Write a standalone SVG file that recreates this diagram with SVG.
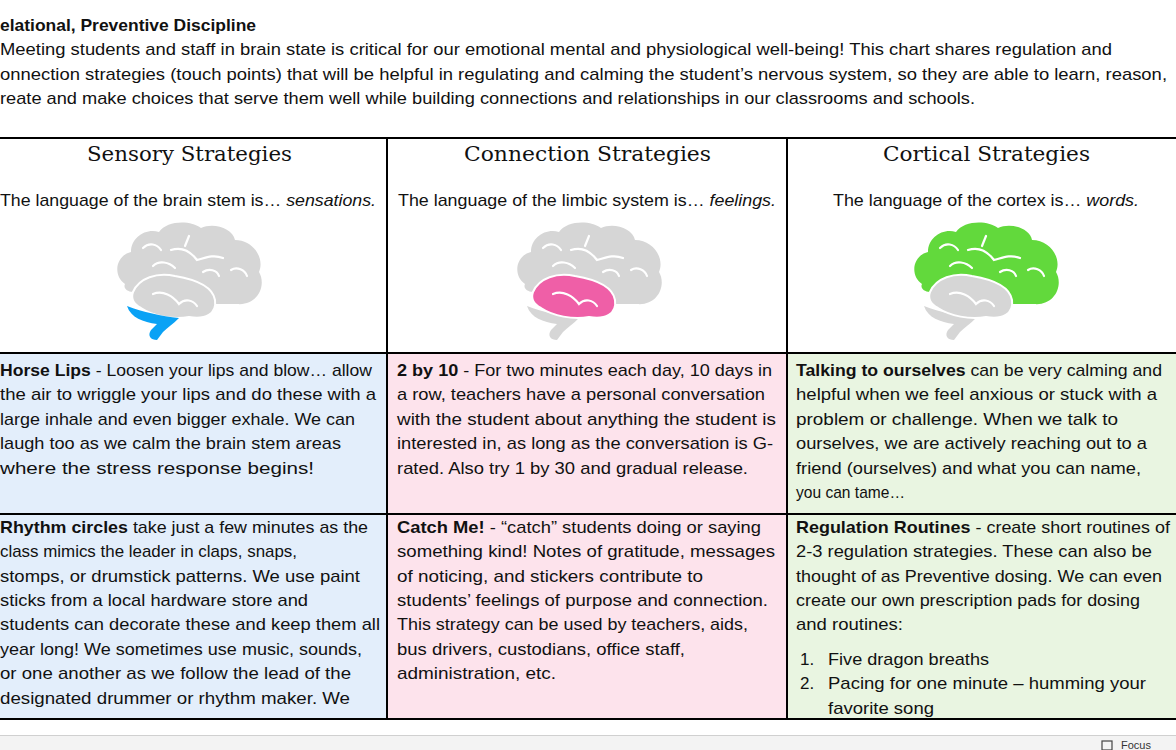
<svg xmlns="http://www.w3.org/2000/svg" width="1176" height="750" viewBox="0 0 1176 750">
<style>
text{font-family:"Liberation Sans",Arial,sans-serif;font-size:17px;fill:#111}
.h{font-family:"DejaVu Serif","Liberation Serif",serif;font-size:20px}
.b{font-weight:bold}
.i{font-style:italic}
.sul{fill:none;stroke:#fff;stroke-width:2.2;stroke-linecap:round}
</style>
<defs>
<path id="ctx" d="M12,64 C0,56 2,36 18,32 C18,18 32,8 46,12 C54,0 78,0 88,8 C100,2 120,8 122,20 C140,20 152,38 146,52 C154,66 144,86 124,84 L102,84 C98,70 84,64 62,60 C46,56 30,60 20,72 C14,72 10,68 12,64 Z"/>
<path id="tmp" d="M20,72 C26,58 44,52 62,56 C86,60 100,68 102,80 C104,94 92,100 76,97 C60,100 40,96 28,88 C20,84 18,78 20,72 Z"/>
<path id="stm" d="M14,86 C30,92 48,96 66,98 C60,104 54,108 50,112 L44,120 C38,120 34,116 38,110 L44,104 C30,102 18,98 14,86 Z"/>
<g id="sulci" class="sul"><path d="M30,28 C36,22 44,24 48,30"/><path d="M58,30 C70,26 78,32 84,40 C92,38 100,34 110,38"/><path d="M118,50 C124,46 132,50 134,56"/><path d="M40,46 C46,40 56,42 62,48"/><path d="M90,52 C96,48 104,50 106,56"/><path d="M40,74 C50,70 60,76 66,84 C72,78 80,80 84,86"/><path d="M76,16 L72,26"/></g>
</defs>
<rect width="1176" height="750" fill="#fff"/>
<text x="0" y="31" class="b" textLength="256" lengthAdjust="spacingAndGlyphs">elational, Preventive Discipline</text>
<text x="0" y="55" textLength="1112" lengthAdjust="spacingAndGlyphs">Meeting students and staff in brain state is critical for our emotional mental and physiological well-being!  This chart shares regulation and</text>
<text x="0" y="80" textLength="1167" lengthAdjust="spacingAndGlyphs">onnection strategies (touch points) that will be helpful in regulating and calming the student’s nervous system, so they are able to learn, reason,</text>
<text x="0" y="104" textLength="975" lengthAdjust="spacingAndGlyphs">reate and make choices that serve them well while building connections and relationships in our classrooms and schools.</text>

<g id="cells">
<rect x="0" y="353" width="387" height="366" fill="#e3eefb"/>
<rect x="387" y="353" width="400" height="366" fill="#fde3ec"/>
<rect x="787" y="353" width="389" height="366" fill="#e9f5e1"/>
</g>
<g id="grid" stroke="#000" stroke-width="2" fill="none">
<line x1="0" y1="138" x2="1176" y2="138"/><line x1="0" y1="353" x2="1176" y2="353"/><line x1="0" y1="514" x2="1176" y2="514"/><line x1="0" y1="719" x2="1176" y2="719"/>
<line x1="387" y1="138" x2="387" y2="719"/><line x1="787" y1="138" x2="787" y2="719"/>
</g>

<g id="col1-head">
<text x="87" y="161" class="h" textLength="205" lengthAdjust="spacingAndGlyphs">Sensory Strategies</text>
<text x="0" y="206" textLength="376" lengthAdjust="spacingAndGlyphs">The language of the brain stem is… <tspan class="i">sensations.</tspan></text>
<g transform="translate(113,220)"><use href="#ctx" fill="#d6d6d6"/><use href="#tmp" fill="#d6d6d6" stroke="#fff" stroke-width="2"/><use href="#stm" fill="#0aa2f5"/><use href="#sulci"/></g>
</g>
<g id="col2-head">
<text x="464" y="161" class="h" textLength="247" lengthAdjust="spacingAndGlyphs">Connection Strategies</text>
<text x="398" y="206" textLength="378" lengthAdjust="spacingAndGlyphs">The language of the limbic system is… <tspan class="i">feelings.</tspan></text>
<g transform="translate(513,220)"><use href="#ctx" fill="#d6d6d6"/><use href="#stm" fill="#d6d6d6"/><use href="#tmp" fill="#ef5fa7" stroke="#fff" stroke-width="2"/><use href="#sulci"/></g>
</g>
<g id="col3-head">
<text x="883" y="161" class="h" textLength="207" lengthAdjust="spacingAndGlyphs">Cortical Strategies</text>
<text x="833" y="206" textLength="306" lengthAdjust="spacingAndGlyphs">The language of the cortex is… <tspan class="i">words.</tspan></text>
<g transform="translate(910,220)"><use href="#ctx" fill="#62d93c"/><use href="#stm" fill="#d6d6d6"/><use href="#tmp" fill="#d6d6d6" stroke="#fff" stroke-width="2"/><use href="#sulci"/></g>
</g>

<g id="horse-lips">
<text x="0" y="376" textLength="372" lengthAdjust="spacingAndGlyphs"><tspan class="b">Horse Lips</tspan> - Loosen your lips and blow… allow</text>
<text x="0" y="400" textLength="376" lengthAdjust="spacingAndGlyphs">the air to wriggle your lips and do these with a</text>
<text x="0" y="425" textLength="355" lengthAdjust="spacingAndGlyphs">large inhale and even bigger exhale. We can</text>
<text x="0" y="449" textLength="341" lengthAdjust="spacingAndGlyphs">laugh too as we calm the brain stem areas</text>
<text x="0" y="474" textLength="314" lengthAdjust="spacingAndGlyphs">where the stress response begins!</text>
</g>
<g id="two-by-ten">
<text x="397" y="376" textLength="375" lengthAdjust="spacingAndGlyphs"><tspan class="b">2 by 10</tspan> - For two minutes each day, 10 days in</text>
<text x="397" y="400" textLength="368" lengthAdjust="spacingAndGlyphs">a row, teachers have a personal conversation</text>
<text x="397" y="425" textLength="379" lengthAdjust="spacingAndGlyphs">with the student about anything the student is</text>
<text x="397" y="449" textLength="376" lengthAdjust="spacingAndGlyphs">interested in, as long as the conversation is G-</text>
<text x="397" y="474" textLength="351" lengthAdjust="spacingAndGlyphs">rated.  Also try 1 by 30 and gradual release.</text>
</g>
<g id="talking">
<text x="796" y="376" textLength="366" lengthAdjust="spacingAndGlyphs"><tspan class="b">Talking to ourselves</tspan> can be very calming and</text>
<text x="796" y="400" textLength="361" lengthAdjust="spacingAndGlyphs">helpful when we feel anxious or stuck with a</text>
<text x="796" y="425" textLength="322" lengthAdjust="spacingAndGlyphs">problem or challenge.  When we talk to</text>
<text x="796" y="449" textLength="351" lengthAdjust="spacingAndGlyphs">ourselves, we are actively reaching out to a</text>
<text x="796" y="474" textLength="345" lengthAdjust="spacingAndGlyphs">friend (ourselves) and what you can name,</text>
<text x="796" y="498" textLength="109" lengthAdjust="spacingAndGlyphs">you can tame…</text>
</g>
<g id="rhythm">
<text x="0" y="533" textLength="368" lengthAdjust="spacingAndGlyphs"><tspan class="b">Rhythm circles</tspan> take just a few minutes as the</text>
<text x="0" y="557" textLength="297" lengthAdjust="spacingAndGlyphs">class mimics the leader in claps, snaps,</text>
<text x="0" y="582" textLength="360" lengthAdjust="spacingAndGlyphs">stomps, or drumstick patterns. We use paint</text>
<text x="0" y="606" textLength="308" lengthAdjust="spacingAndGlyphs">sticks from a local hardware store and</text>
<text x="0" y="630" textLength="380" lengthAdjust="spacingAndGlyphs">students can decorate these and keep them all</text>
<text x="0" y="655" textLength="362" lengthAdjust="spacingAndGlyphs">year long! We sometimes use music, sounds,</text>
<text x="0" y="679" textLength="351" lengthAdjust="spacingAndGlyphs">or one another as we follow the lead of the</text>
<text x="0" y="704" textLength="350" lengthAdjust="spacingAndGlyphs">designated drummer or rhythm maker. We</text>
</g>
<g id="catch-me">
<text x="397" y="533" textLength="364" lengthAdjust="spacingAndGlyphs"><tspan class="b">Catch Me!</tspan> - “catch” students doing or saying</text>
<text x="397" y="557" textLength="378" lengthAdjust="spacingAndGlyphs">something kind!  Notes of gratitude, messages</text>
<text x="397" y="582" textLength="306" lengthAdjust="spacingAndGlyphs">of noticing, and stickers contribute to</text>
<text x="397" y="606" textLength="371" lengthAdjust="spacingAndGlyphs">students’ feelings of purpose and connection.</text>
<text x="397" y="630" textLength="351" lengthAdjust="spacingAndGlyphs">This strategy can be used by teachers, aids,</text>
<text x="397" y="655" textLength="288" lengthAdjust="spacingAndGlyphs">bus drivers, custodians, office staff,</text>
<text x="397" y="679" textLength="159" lengthAdjust="spacingAndGlyphs">administration, etc.</text>
</g>
<g id="routines">
<text x="796" y="533" textLength="374" lengthAdjust="spacingAndGlyphs"><tspan class="b">Regulation Routines</tspan> - create short routines of</text>
<text x="796" y="557" textLength="356" lengthAdjust="spacingAndGlyphs">2-3 regulation strategies.  These can also be</text>
<text x="796" y="582" textLength="366" lengthAdjust="spacingAndGlyphs">thought of as Preventive dosing.  We can even</text>
<text x="796" y="606" textLength="344" lengthAdjust="spacingAndGlyphs">create our own prescription pads for dosing</text>
<text x="796" y="630" textLength="107" lengthAdjust="spacingAndGlyphs">and routines:</text>
<text x="800" y="665">1.</text><text x="828" y="665" textLength="161" lengthAdjust="spacingAndGlyphs">Five dragon breaths</text>
<text x="800" y="689">2.</text><text x="828" y="689" textLength="318" lengthAdjust="spacingAndGlyphs">Pacing for one minute – humming your</text>
<text x="828" y="714" textLength="106" lengthAdjust="spacingAndGlyphs">favorite song</text>
</g>
<g id="statusbar">
<rect x="0" y="735" width="1176" height="15" fill="#f3f3f3"/>
<line x1="0" y1="735.5" x2="1176" y2="735.5" stroke="#d0d0d0"/>
<rect x="1102" y="741" width="10" height="9" fill="none" stroke="#444" stroke-width="1.2"/>
<text x="1121" y="749" style="font-size:11px;fill:#333">Focus</text>
</g>
</svg>
